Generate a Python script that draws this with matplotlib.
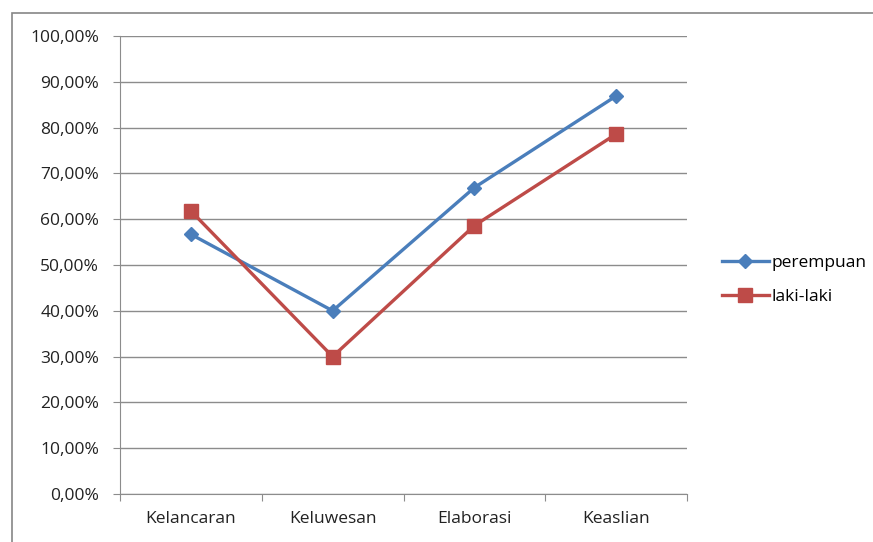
import matplotlib.pyplot as plt
from matplotlib.patches import Rectangle
from matplotlib.ticker import FuncFormatter

plt.rcParams['font.family'] = ['Open Sans', 'DejaVu Sans']

categories = ['Kelancaran', 'Keluwesan', 'Elaborasi', 'Keaslian']
perempuan = [56.7, 40.0, 66.9, 86.9]
laki_laki = [61.8, 30.0, 58.6, 78.6]
y_ticks = [0, 10, 20, 30, 40, 50, 60, 70, 80, 90, 100]

fig = plt.figure(figsize=(8.73, 5.42), dpi=100)
# outer chart border
fig.patches.append(Rectangle((12 / 873, -0.05), 1.1, (542 - 12.5) / 542 + 0.05,
                             transform=fig.transFigure, fill=False,
                             edgecolor='#868686', linewidth=1.2))
ax = fig.add_axes([120 / 873, 48 / 542, 567 / 873, 458 / 542])

x = range(len(categories))
ax.plot(x, perempuan, color='#4A7EBB', linewidth=2.4, marker='D', markersize=7.5,
        label='perempuan')
ax.plot(x, laki_laki, color='#BE4B48', linewidth=2.4, marker='s', markersize=9.5,
        label='laki-laki')

ax.set_xlim(-0.5, len(categories) - 0.5)
ax.set_ylim(0, 100)
ax.set_yticks(y_ticks)
ax.yaxis.set_major_formatter(FuncFormatter(lambda v, p: ('%.2f%%' % v).replace('.', ',')))
ax.grid(axis='y', color='#8C8C8C', linewidth=1)
ax.set_axisbelow(True)

# category labels at centers, ticks at boundaries
ax.set_xticks([i - 0.5 for i in range(len(categories) + 1)])
ax.set_xticklabels([])
ax.set_xticks(list(x), minor=True)
ax.set_xticklabels(categories, minor=True)
ax.tick_params(axis='x', which='minor', length=0, pad=12, labelsize=12.5, labelcolor='#222222')
ax.tick_params(axis='x', which='major', length=5, color='#8C8C8C', direction='out')
ax.tick_params(axis='y', length=5, color='#8C8C8C', pad=10, labelsize=12.5, labelcolor='#222222')

for s in ['top', 'right']:
    ax.spines[s].set_visible(False)
ax.spines['left'].set_color('#8C8C8C')
ax.spines['bottom'].set_color('#8C8C8C')

fig.legend(loc='center left', bbox_to_anchor=(706 / 873, 1 - 280 / 542), frameon=False,
           handlelength=2.7, handletextpad=0.15, labelspacing=1.0, fontsize=12.5)

fig.savefig('out.png', dpi=100)
